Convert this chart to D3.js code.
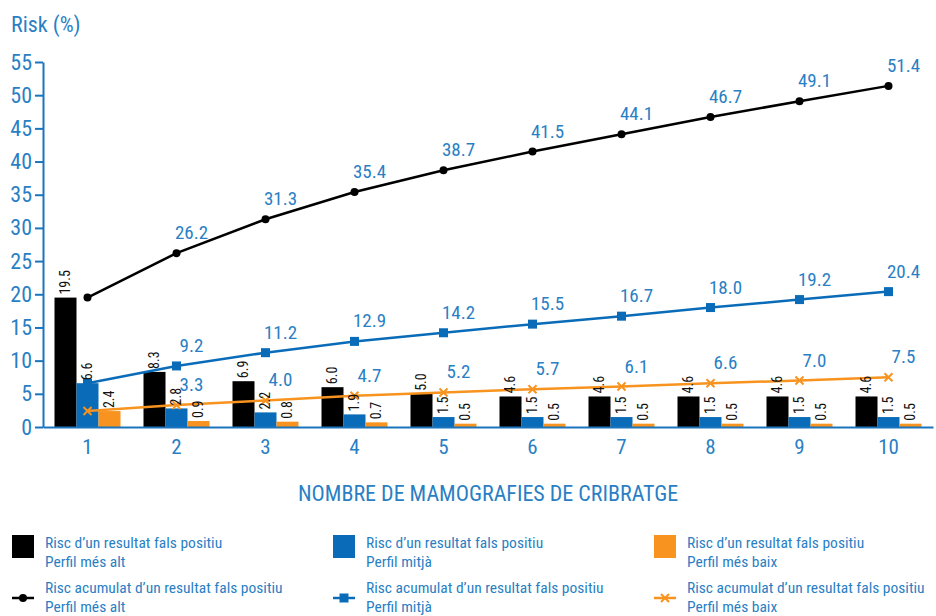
<!DOCTYPE html>
<html>
<head>
<meta charset="utf-8">
<script src="https://cdn.jsdelivr.net/npm/d3@7"></script>
<style>
  body { margin: 0; background: #fff; }
  svg text { font-family: "Liberation Sans Narrow", "Roboto Condensed", "Roboto", sans-serif; }
</style>
</head>
<body>
<svg id="chart" width="936" height="616"></svg>
<script>
var mamografies = [1, 2, 3, 4, 5, 6, 7, 8, 9, 10];

// risc d'un resultat fals positiu (barres)
var barAlt   = [19.5, 8.3, 6.9, 6.0, 5.0, 4.6, 4.6, 4.6, 4.6, 4.6];
var barMitja = [6.6, 2.8, 2.2, 1.9, 1.5, 1.5, 1.5, 1.5, 1.5, 1.5];
var barBaix  = [2.4, 0.9, 0.8, 0.7, 0.5, 0.5, 0.5, 0.5, 0.5, 0.5];

// risc acumulat (línies)
var lineAlt   = [19.5, 26.2, 31.3, 35.4, 38.7, 41.5, 44.1, 46.7, 49.1, 51.4];
var lineMitja = [6.6, 9.2, 11.2, 12.9, 14.2, 15.5, 16.7, 18.0, 19.2, 20.4];
var lineBaix  = [2.4, 3.3, 4.0, 4.7, 5.2, 5.7, 6.1, 6.6, 7.0, 7.5];

var yTicks = [0, 5, 10, 15, 20, 25, 30, 35, 40, 45, 50, 55];

var BLUE = "#1a75bc";
var TXT = "#2a7fc4";
var BLACK = "#000";
var MID = "#0a6cb8";
var ORANGE = "#f7931e";

var svg = d3.select("#chart");

var x = d3.scaleBand().domain(mamografies).range([43, 933]);
var sub = d3.scaleBand().domain(["alt", "mitja", "baix"]).range([-33, 33]);
var y = d3.scaleLinear().domain([0, 55]).range([427, 62]);

// Y axis
var yAxis = svg.append("g")
    .attr("transform", "translate(43,0)")
    .call(d3.axisLeft(y).tickValues(yTicks).tickSize(8).tickSizeOuter(0).tickPadding(3));
yAxis.select(".domain").attr("stroke", BLUE).attr("stroke-width", 2);
yAxis.selectAll(".tick line").attr("stroke", BLUE).attr("stroke-width", 2);
yAxis.selectAll(".tick text").attr("fill", TXT).style("font-size", "22px");

svg.append("text")
    .attr("x", 11).attr("y", 32)
    .attr("fill", TXT)
    .style("font-size", "22px")
    .text("Risk (%)");

// bars
var barSeries = [
    { key: "alt", values: barAlt, color: BLACK },
    { key: "mitja", values: barMitja, color: MID },
    { key: "baix", values: barBaix, color: ORANGE }
];

barSeries.forEach(s => {
    var g = svg.append("g");
    g.selectAll("rect")
        .data(s.values)
        .join("rect")
        .attr("x", (d, i) => x(mamografies[i]) + x.bandwidth() / 2 + sub(s.key))
        .attr("y", d => y(d))
        .attr("width", sub.bandwidth())
        .attr("height", d => y(0) - y(d))
        .attr("fill", s.color);
});

// X axis
var xAxis = svg.append("g")
    .attr("transform", "translate(0,427)")
    .call(d3.axisBottom(x).tickSize(0).tickSizeOuter(0).tickPadding(12));
xAxis.select(".domain").attr("stroke", BLUE).attr("stroke-width", 2);
xAxis.selectAll(".tick text").attr("fill", TXT).style("font-size", "21px");

svg.append("text")
    .attr("x", 488).attr("y", 501)
    .attr("text-anchor", "middle")
    .attr("fill", TXT)
    .style("font-size", "22px")
    .text("NOMBRE DE MAMOGRAFIES DE CRIBRATGE");

// lines
var lineSeries = [
    { key: "alt", values: lineAlt, color: BLACK, marker: "circle" },
    { key: "mitja", values: lineMitja, color: MID, marker: "square" },
    { key: "baix", values: lineBaix, color: ORANGE, marker: "cross" }
];

var cx = i => x(mamografies[i]) + x.bandwidth() / 2;

function drawMarker(g, type, px, py, color) {
    if (type === "circle") {
        g.append("circle").attr("cx", px).attr("cy", py).attr("r", 4).attr("fill", color);
    } else if (type === "square") {
        g.append("rect").attr("x", px - 4.5).attr("y", py - 4.5).attr("width", 9).attr("height", 9).attr("fill", color);
    } else {
        g.append("path")
            .attr("d", `M${px - 4},${py - 4}L${px + 4},${py + 4}M${px - 4},${py + 4}L${px + 4},${py - 4}`)
            .attr("stroke", color).attr("stroke-width", 2);
    }
}

lineSeries.forEach(s => {
    var g = svg.append("g");
    var line = d3.line().x((d, i) => cx(i)).y(d => y(d));
    g.append("path")
        .datum(s.values)
        .attr("d", line)
        .attr("fill", "none")
        .attr("stroke", s.color)
        .attr("stroke-width", 2.5);
    s.values.forEach((d, i) => drawMarker(g, s.marker, cx(i), y(d), s.color));
    g.selectAll("text")
        .data(s.values.slice(1))
        .join("text")
        .attr("x", (d, i) => cx(i + 1) + 15)
        .attr("y", d => y(d) - 14)
        .attr("text-anchor", "middle")
        .attr("fill", TXT)
        .style("font-size", "19px")
        .text(d => d.toFixed(1));
});

// bar value labels (rotated)
barSeries.forEach(s => {
    svg.append("g").selectAll("text")
        .data(s.values)
        .join("text")
        .attr("transform", (d, i) => {
            var px = x(mamografies[i]) + x.bandwidth() / 2 + sub(s.key) + sub.bandwidth() / 2;
            return `translate(${px},${y(d) - 3}) rotate(-90)`;
        })
        .attr("dy", "0.35em")
        .attr("fill", "#111")
        .style("font-size", "14px")
        .text(d => d.toFixed(1));
});

// legend
var legendCols = [12, 333, 654];
var legendNames = ["Perfil més alt", "Perfil mitjà", "Perfil més baix"];

barSeries.forEach((s, i) => {
    var lx = legendCols[i];
    svg.append("rect")
        .attr("x", lx).attr("y", 535)
        .attr("width", 22).attr("height", 23)
        .attr("fill", s.color);
    var t = svg.append("text").attr("fill", TXT).style("font-size", "15.5px");
    t.append("tspan").attr("x", lx + 33).attr("y", 548).text("Risc d’un resultat fals positiu");
    t.append("tspan").attr("x", lx + 33).attr("y", 567).text(legendNames[i]);
});

lineSeries.forEach((s, i) => {
    var lx = legendCols[i];
    var g = svg.append("g");
    g.append("line")
        .attr("x1", lx).attr("x2", lx + 22)
        .attr("y1", 598).attr("y2", 598)
        .attr("stroke", s.color).attr("stroke-width", 2.5);
    drawMarker(g, s.marker, lx + 11, 598, s.color);
    var t = svg.append("text").attr("fill", TXT).style("font-size", "15.5px");
    t.append("tspan").attr("x", lx + 33).attr("y", 593).text("Risc acumulat d’un resultat fals positiu");
    t.append("tspan").attr("x", lx + 33).attr("y", 612).text(legendNames[i]);
});
</script>
</body>
</html>
